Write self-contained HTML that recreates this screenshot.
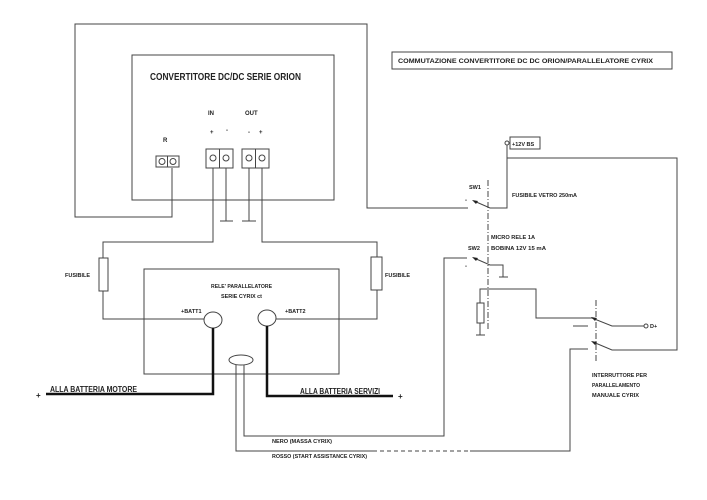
<!DOCTYPE html>
<html><head><meta charset="utf-8"><style>
html,body{margin:0;padding:0;background:#fff;}
svg{display:block;font-family:"Liberation Sans",sans-serif;}
text{font-weight:bold;fill:#222;}
</style></head><body>
<svg width="707" height="500" viewBox="0 0 707 500" xmlns="http://www.w3.org/2000/svg">
<g fill="none" stroke="#444" stroke-width="1">
<polyline points="172,168 172,217 75,217 75,24 367,24 367,208 468,208"/>
<rect x="132" y="55" width="202" height="145"/>
<rect x="156" y="156" width="23" height="11"/><line x1="167.5" y1="156" x2="167.5" y2="167"/>
<circle cx="162" cy="161.5" r="3"/><circle cx="173" cy="161.5" r="3"/>
<rect x="206" y="149" width="27" height="19"/><line x1="219.5" y1="149" x2="219.5" y2="168"/>
<circle cx="213" cy="158" r="3"/><circle cx="226" cy="158" r="3"/>
<rect x="242" y="149" width="27" height="19"/><line x1="255.5" y1="149" x2="255.5" y2="168"/>
<circle cx="249" cy="158" r="3"/><circle cx="262" cy="158" r="3"/>
<polyline points="213,168 213,242 103,242 103,258"/>
<polyline points="226,168 226,221"/><line x1="220" y1="221" x2="233" y2="221"/>
<polyline points="249,168 249,221"/><line x1="242" y1="221" x2="256" y2="221"/>
<polyline points="262,168 262,242 377,242 377,257"/>
<rect x="99" y="258" width="9" height="33"/>
<rect x="371" y="257" width="11" height="33"/>
<polyline points="103,291 103,319 204,319"/>
<polyline points="377,290 377,319 276,319"/>
<rect x="144" y="269" width="195" height="105"/>
<ellipse cx="213" cy="320" rx="9" ry="8"/>
<ellipse cx="267" cy="318" rx="9" ry="8"/>
<ellipse cx="241" cy="360" rx="12" ry="5"/>
<polyline points="244,365 244,436 444,436 444,258 467,258"/>
<polyline points="236,365 236,451 373,451"/>
<line x1="373" y1="451" x2="470" y2="451" stroke-dasharray="4,3"/>
<polyline points="470,451 570,451 570,349 588,349"/>
<line x1="573" y1="326" x2="588" y2="326"/>
<polyline points="474,201 490,208 507,208 507,158 677,158 677,350 612,350 593,342"/>
<line x1="507" y1="158" x2="507" y2="145"/>
<circle cx="507" cy="143" r="2"/>
<rect x="510" y="137" width="30" height="12"/>
<polyline points="474,258 490,265 503,265 503,277"/><line x1="499" y1="277" x2="508" y2="277"/>
<polyline points="480,335 480,289 536,289 536,318 592,318 612,326 644,326"/>
<line x1="476" y1="335" x2="485" y2="335"/>
<circle cx="646" cy="326" r="2"/>
<line x1="488" y1="180" x2="488" y2="330" stroke-dasharray="6,2,1,2"/>
<line x1="596" y1="300" x2="596" y2="362" stroke-dasharray="6,2,1,2"/>
<rect x="392" y="52" width="280" height="17"/>
</g>
<rect x="477" y="303" width="7" height="20" fill="#fff" stroke="#444"/>
<g fill="#222">
<polygon points="472,200 478,201 476,204"/>
<polygon points="472,257 478,258 476,261"/>
<polygon points="591,317 597,318 595,321"/>
<polygon points="591,341 597,342 595,345"/>
</g>
<g fill="none" stroke="#111" stroke-width="2.5">
<polyline points="213,328 213,394 46,394"/>
<polyline points="267,326 267,396 393,396"/>
</g>
<text x="150" y="80" font-size="10" textLength="151" lengthAdjust="spacingAndGlyphs">CONVERTITORE DC/DC SERIE ORION</text>
<text x="208" y="115" font-size="6">IN</text>
<text x="245" y="115" font-size="6">OUT</text>
<text x="210" y="134" font-size="6">+</text><text x="226" y="132" font-size="6">-</text>
<text x="248" y="134" font-size="6">-</text><text x="259" y="134" font-size="6">+</text>
<text x="163" y="142" font-size="6">R</text>
<text x="398" y="63" font-size="6.4" textLength="255" lengthAdjust="spacingAndGlyphs">COMMUTAZIONE CONVERTITORE  DC DC  ORION/PARALLELATORE CYRIX</text>
<text x="512" y="146" font-size="5.5">+12V BS</text>
<text x="469" y="189" font-size="5.5">SW1</text>
<text x="465" y="202" font-size="6">-</text>
<text x="512" y="197" font-size="5.5" textLength="65" lengthAdjust="spacingAndGlyphs">FUSIBILE VETRO 250mA</text>
<text x="491" y="239" font-size="5.5" textLength="44" lengthAdjust="spacingAndGlyphs">MICRO RELE 1A</text>
<text x="491" y="250" font-size="5.5" textLength="55" lengthAdjust="spacingAndGlyphs">BOBINA 12V 15 mA</text>
<text x="468" y="250" font-size="5.5">SW2</text>
<text x="465" y="268" font-size="6">-</text>
<text x="650" y="328" font-size="5.5">D+</text>
<text x="592" y="377" font-size="5.5" textLength="55" lengthAdjust="spacingAndGlyphs">INTERRUTTORE PER</text>
<text x="592" y="387" font-size="5.5" textLength="48" lengthAdjust="spacingAndGlyphs">PARALLELAMENTO</text>
<text x="592" y="397" font-size="5.5" textLength="47" lengthAdjust="spacingAndGlyphs">MANUALE CYRIX</text>
<text x="65" y="277" font-size="5.5">FUSIBILE</text>
<text x="385" y="277" font-size="5.5">FUSIBILE</text>
<text x="211" y="288" font-size="5.5" textLength="61" lengthAdjust="spacingAndGlyphs">RELE' PARALLELATORE</text>
<text x="221" y="298" font-size="5.5" textLength="41" lengthAdjust="spacingAndGlyphs">SERIE CYRIX ct</text>
<text x="181" y="313" font-size="5.5">+BATT1</text>
<text x="285" y="313" font-size="5.5">+BATT2</text>
<text x="50" y="392" font-size="8" textLength="87" lengthAdjust="spacingAndGlyphs">ALLA BATTERIA MOTORE</text>
<text x="36" y="398" font-size="8">+</text>
<text x="300" y="394" font-size="8" textLength="80" lengthAdjust="spacingAndGlyphs">ALLA BATTERIA SERVIZI</text>
<text x="398" y="399" font-size="8">+</text>
<text x="272" y="443" font-size="5.5" textLength="60" lengthAdjust="spacingAndGlyphs">NERO (MASSA CYRIX)</text>
<text x="272" y="458" font-size="5.5" textLength="95" lengthAdjust="spacingAndGlyphs">ROSSO (START ASSISTANCE CYRIX)</text>
</svg>
</body></html>
